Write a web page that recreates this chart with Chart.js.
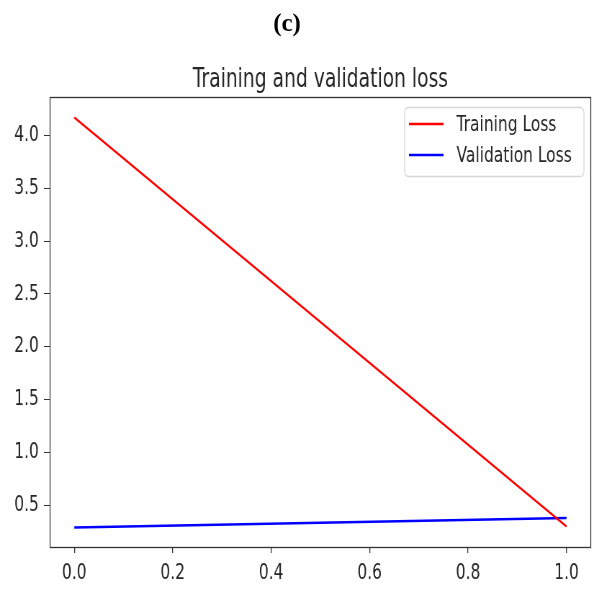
<!DOCTYPE html>
<html>
<head>
<meta charset="utf-8">
<script src="https://cdn.jsdelivr.net/npm/chart.js@4.4.1/dist/chart.umd.min.js"></script>
<style>
  html, body { margin: 0; padding: 0; background: #fff; }
  #wrap { position: relative; width: 594px; height: 589px; overflow: hidden; }
  #panel { position: absolute; left: 287px; top: 10px; transform: translateX(-50%);
           font: bold 25px/25px "Liberation Serif", "Times New Roman", serif; color: #000; }
  canvas { position: absolute; left: 0; top: 0; }
</style>
</head>
<body>
<div id="wrap">
  <!-- the source figure is squeezed sideways, so draw wide and squash to 594px -->
  <canvas id="lossChart" width="825" height="589" style="width:594px;height:589px"></canvas>
  <div id="panel">(c)</div>
</div>
<script>
// ========== LOSS CURVES — matplotlib style line chart ==========
var epochs = [0, 1];
var trainingLoss = [4.17, 0.30];
var validationLoss = [0.29, 0.38];
var seriesNames = ['Training Loss', 'Validation Loss'];
var xTicks = [0.0, 0.2, 0.4, 0.6, 0.8, 1.0];
var yTicks = [0.5, 1.0, 1.5, 2.0, 2.5, 3.0, 3.5, 4.0];
var chartTitle = 'Training and validation loss';

var FONT = '"DejaVu Sans"';

function toPoints(ys) {
    return epochs.map(function(x, i) { return { x: x, y: ys[i] }; });
}

// title centred on the axes, full frame box, legend with rounded border (matplotlib look)
var frameAndLegend = {
    id: 'frameAndLegend',
    afterDatasetsDraw: function(chart) {
        var ctx = chart.ctx, a = chart.chartArea;
        ctx.save();

        ctx.font = '26px ' + FONT;
        ctx.fillStyle = '#262626';
        ctx.textAlign = 'center';
        ctx.textBaseline = 'alphabetic';
        ctx.fillText(chartTitle, (a.left + a.right) / 2, a.top - 10);
        ctx.textAlign = 'left';

        ctx.strokeStyle = '#333';
        ctx.lineWidth = 1.3;
        ctx.strokeRect(a.left + 0.5, a.top + 0.5, a.right - a.left - 1, a.bottom - a.top - 1);

        var bw = 249, bh = 69;
        var bx = a.right - 10 - bw, by = a.top + 10;
        ctx.beginPath();
        ctx.roundRect(bx, by + 0.5, bw, bh, 5);
        ctx.fillStyle = 'rgba(255,255,255,0.8)';
        ctx.fill();
        ctx.lineWidth = 1.3;
        ctx.strokeStyle = '#d6d6d6';
        ctx.stroke();

        ctx.font = '21.5px ' + FONT;
        ctx.textBaseline = 'middle';
        chart.data.datasets.forEach(function(ds, i) {
            var ly = by + 17 + i * 31;
            ctx.beginPath();
            ctx.strokeStyle = ds.borderColor;
            ctx.lineWidth = 2.5;
            ctx.moveTo(bx + 6, ly);
            ctx.lineTo(bx + 54, ly);
            ctx.stroke();
            ctx.fillStyle = '#262626';
            ctx.fillText(ds.label, bx + 72, ly + 1);
        });
        ctx.restore();
    }
};

new Chart(document.getElementById('lossChart').getContext('2d'), {
    type: 'line',
    data: {
        datasets: [
            { label: seriesNames[0], data: toPoints(trainingLoss), borderColor: '#ff0000', borderWidth: 2.3, pointRadius: 0, tension: 0, fill: false },
            { label: seriesNames[1], data: toPoints(validationLoss), borderColor: '#0000ff', borderWidth: 2.6, pointRadius: 0, tension: 0, fill: false }
        ]
    },
    options: {
        responsive: false,
        devicePixelRatio: 1,
        animation: false,
        layout: { padding: { left: 0, right: 4, top: 97, bottom: 0 } },
        plugins: {
            legend: { display: false },
            tooltip: { enabled: false },
            title: { display: false }
        },
        scales: {
            x: {
                type: 'linear',
                min: -0.05, max: 1.05,
                afterFit: function(s) { s.height = 41; },
                afterBuildTicks: function(s) { s.ticks = xTicks.map(function(v) { return { value: v }; }); },
                border: { display: false },
                grid: { drawOnChartArea: false, color: '#333', tickLength: 5, lineWidth: 1.3 },
                ticks: { color: '#262626', padding: 8, maxRotation: 0,
                         font: { family: FONT, size: 21.5 },
                         callback: function(v) { return v.toFixed(1); } }
            },
            y: {
                type: 'linear',
                min: 0.096, max: 4.364,
                afterFit: function(s) { s.width = 69; },
                afterBuildTicks: function(s) { s.ticks = yTicks.map(function(v) { return { value: v }; }); },
                border: { display: false },
                grid: { drawOnChartArea: false, color: '#333', tickLength: 8 },
                ticks: { color: '#262626', padding: 7,
                         font: { family: FONT, size: 21.5 },
                         callback: function(v) { return v.toFixed(1); } }
            }
        }
    },
    plugins: [frameAndLegend]
});
</script>
</body>
</html>
